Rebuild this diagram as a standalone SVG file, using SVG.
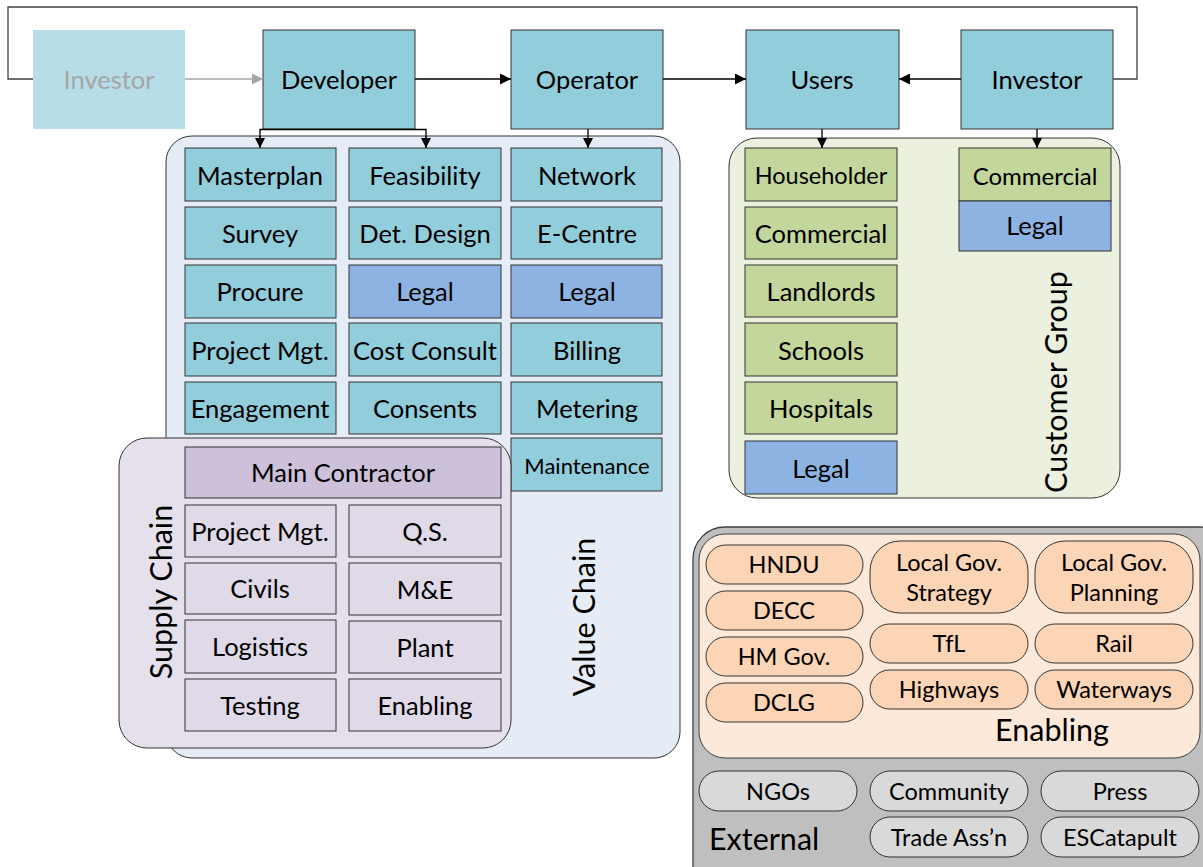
<svg xmlns="http://www.w3.org/2000/svg" width="1203" height="867" viewBox="0 0 1203 867">
<style>
text{font-family:Lato,"Liberation Sans",sans-serif;fill:#000;text-anchor:middle;dominant-baseline:central}
.t{font-size:25.5px}
.s{font-size:25.5px}
.p{font-size:23.5px}
.top{fill:#92cddc;stroke:#333;stroke-width:1}
.vc{fill:#92cddc;stroke:#333;stroke-width:1}
.lg{fill:#8db3e2;stroke:#333;stroke-width:1}
.gr{fill:#c3d69b;stroke:#333;stroke-width:1}
.sc{fill:#dfd9e8;stroke:#333;stroke-width:1}
.en{fill:#fbd5b5;stroke:#333;stroke-width:1}
.ex{fill:#d9d9d9;stroke:#333;stroke-width:1}
.ln{fill:none;stroke:#000;stroke-width:1.3}
.lbl{font-size:30.5px}
</style>
<defs>
<marker id="a" viewBox="0 0 10 10" refX="10" refY="5" markerWidth="10" markerHeight="10" markerUnits="userSpaceOnUse" orient="auto"><path d="M0,0L10,5L0,10z" fill="#000"/></marker>
<marker id="ab" viewBox="0 0 10 10" refX="10" refY="5" markerWidth="13" markerHeight="11" markerUnits="userSpaceOnUse" orient="auto"><path d="M0,0L10,5L0,10z" fill="#000"/></marker>
<marker id="ag" viewBox="0 0 10 10" refX="10" refY="5" markerWidth="13" markerHeight="11" markerUnits="userSpaceOnUse" orient="auto"><path d="M0,0L10,5L0,10z" fill="#a6a6a6"/></marker>
</defs>

<g id="top-nodes">
<g id="investor-left"><rect x="33" y="30" width="152" height="99" fill="#b6dde8"/><text x="109" y="79" class="t" style="fill:#a6a6a6">Investor</text></g>
<g id="developer"><rect x="263" y="30" width="152" height="99" class="top"/><text x="339" y="79" class="t">Developer</text></g>
<g id="operator"><rect x="511" y="30" width="152" height="99" class="top"/><text x="587" y="79" class="t">Operator</text></g>
<g id="users"><rect x="746" y="30" width="153" height="99" class="top"/><text x="822" y="79" class="t">Users</text></g>
<g id="investor-right"><rect x="961" y="30" width="152" height="99" class="top"/><text x="1037" y="79" class="t">Investor</text></g>
</g>

<g id="value-chain">
<rect x="166" y="136" width="514" height="622" rx="26" fill="#e6ecf5" stroke="#333" stroke-width="1"/>
<text x="583" y="617" class="lbl" transform="rotate(-90 583 617)">Value Chain</text>
<g id="masterplan"><rect x="185" y="148" width="151" height="53" class="vc"/><text x="260" y="175" class="s">Masterplan</text></g>
<g id="survey"><rect x="185" y="207" width="151" height="52" class="vc"/><text x="260" y="233" class="s">Survey</text></g>
<g id="procure"><rect x="185" y="265" width="151" height="53" class="vc"/><text x="260" y="291" class="s">Procure</text></g>
<g id="project-mgt"><rect x="185" y="323" width="151" height="53" class="vc"/><text x="260" y="350" class="s">Project Mgt.</text></g>
<g id="engagement"><rect x="185" y="382" width="151" height="52" class="vc"/><text x="260" y="408" class="s">Engagement</text></g>
<g id="feasibility"><rect x="349" y="148" width="152" height="53" class="vc"/><text x="425" y="175" class="s">Feasibility</text></g>
<g id="det-design"><rect x="349" y="207" width="152" height="52" class="vc"/><text x="425" y="233" class="s">Det. Design</text></g>
<g id="legal-vc1"><rect x="349" y="265" width="152" height="53" class="lg"/><text x="425" y="291" class="s">Legal</text></g>
<g id="cost-consult"><rect x="349" y="323" width="152" height="53" class="vc"/><text x="425" y="350" class="s">Cost Consult</text></g>
<g id="consents"><rect x="349" y="382" width="152" height="52" class="vc"/><text x="425" y="408" class="s">Consents</text></g>
<g id="network"><rect x="511" y="148" width="151" height="53" class="vc"/><text x="587" y="175" class="s">Network</text></g>
<g id="e-centre"><rect x="511" y="207" width="151" height="52" class="vc"/><text x="587" y="233" class="s">E-Centre</text></g>
<g id="legal-vc2"><rect x="511" y="265" width="151" height="53" class="lg"/><text x="587" y="291" class="s">Legal</text></g>
<g id="billing"><rect x="511" y="323" width="151" height="53" class="vc"/><text x="587" y="350" class="s">Billing</text></g>
<g id="metering"><rect x="511" y="382" width="151" height="52" class="vc"/><text x="587" y="408" class="s">Metering</text></g>
<g id="maintenance"><rect x="511" y="438" width="151" height="53" class="vc"/><text x="587" y="465" style="font-size:22px">Maintenance</text></g>
</g>

<g id="supply-chain">
<rect x="119" y="438" width="392" height="310" rx="28" fill="#e5e0ec" stroke="#333" stroke-width="1"/>
<text x="160" y="592" class="lbl" transform="rotate(-90 160 592)">Supply Chain</text>
<g id="main-contractor"><rect x="185" y="447" width="316" height="51" fill="#ccc0da" stroke="#333"/><text x="343" y="472" class="s">Main Contractor</text></g>
<g id="sc-project-mgt"><rect x="185" y="505" width="151" height="52" class="sc"/><text x="260" y="531" class="s">Project Mgt.</text></g>
<g id="civils"><rect x="185" y="563" width="151" height="51" class="sc"/><text x="260" y="588" class="s">Civils</text></g>
<g id="logistics"><rect x="185" y="620" width="151" height="53" class="sc"/><text x="260" y="646" class="s">Logistics</text></g>
<g id="testing"><rect x="185" y="679" width="151" height="52" class="sc"/><text x="260" y="705" class="s">Testing</text></g>
<g id="qs"><rect x="349" y="505" width="152" height="52" class="sc"/><text x="425" y="531" class="s">Q.S.</text></g>
<g id="me"><rect x="349" y="563" width="152" height="52" class="sc"/><text x="425" y="589" class="s">M&amp;E</text></g>
<g id="plant"><rect x="349" y="621" width="152" height="52" class="sc"/><text x="425" y="647" class="s">Plant</text></g>
<g id="sc-enabling"><rect x="349" y="679" width="152" height="52" class="sc"/><text x="425" y="705" class="s">Enabling</text></g>
</g>

<g id="customer-group">
<rect x="729" y="138" width="391" height="360" rx="28" fill="#ebf1de" stroke="#333" stroke-width="1"/>
<text x="1055" y="382" class="lbl" transform="rotate(-90 1055 382)">Customer Group</text>
<g id="householder"><rect x="745" y="148" width="152" height="53" class="gr"/><text x="821" y="175" style="font-size:23.5px">Householder</text></g>
<g id="commercial-l"><rect x="745" y="207" width="152" height="52" class="gr"/><text x="821" y="233" class="s">Commercial</text></g>
<g id="landlords"><rect x="745" y="265" width="152" height="52" class="gr"/><text x="821" y="291" class="s">Landlords</text></g>
<g id="schools"><rect x="745" y="323" width="152" height="53" class="gr"/><text x="821" y="350" class="s">Schools</text></g>
<g id="hospitals"><rect x="745" y="382" width="152" height="52" class="gr"/><text x="821" y="408" class="s">Hospitals</text></g>
<g id="legal-cg1"><rect x="745" y="441" width="152" height="53" class="lg"/><text x="821" y="468" class="s">Legal</text></g>
<g id="commercial-r"><rect x="959" y="148" width="152" height="53" class="gr"/><text x="1035" y="175" style="font-size:24px">Commercial</text></g>
<g id="legal-cg2"><rect x="959" y="201" width="152" height="50" class="lg"/><text x="1035" y="225" class="s">Legal</text></g>
</g>

<g id="external">
<rect x="693" y="527" width="540" height="380" rx="32" fill="#bfbfbf" stroke="#404040" stroke-width="1.3"/>
<text x="709" y="838" class="lbl" style="text-anchor:start">External</text>
<g id="ngos"><rect x="699" y="771" width="158" height="40" rx="20" class="ex"/><text x="778" y="791" class="p">NGOs</text></g>
<g id="community"><rect x="870" y="771" width="158" height="40" rx="20" class="ex"/><text x="949" y="791" class="p">Community</text></g>
<g id="press"><rect x="1041" y="771" width="158" height="40" rx="20" class="ex"/><text x="1120" y="791" class="p">Press</text></g>
<g id="trade-assn"><rect x="870" y="817" width="158" height="40" rx="20" class="ex"/><text x="949" y="837" class="p">Trade Ass’n</text></g>
<g id="escatapult"><rect x="1041" y="817" width="158" height="40" rx="20" class="ex"/><text x="1120" y="837" class="p">ESCatapult</text></g>
</g>

<g id="enabling">
<rect x="699" y="534" width="501" height="224" rx="26" fill="#fde9d9" stroke="#404040" stroke-width="1"/>
<text x="1052" y="729" class="lbl">Enabling</text>
<g id="hndu"><rect x="706" y="545" width="157" height="39" rx="19.5" class="en"/><text x="784" y="564" class="p">HNDU</text></g>
<g id="decc"><rect x="706" y="591" width="157" height="39" rx="19.5" class="en"/><text x="784" y="610" class="p">DECC</text></g>
<g id="hm-gov"><rect x="706" y="637" width="157" height="39" rx="19.5" class="en"/><text x="784" y="656" class="p">HM Gov.</text></g>
<g id="dclg"><rect x="706" y="683" width="157" height="39" rx="19.5" class="en"/><text x="784" y="702" class="p">DCLG</text></g>
<g id="lg-strategy"><rect x="870" y="541" width="158" height="72" rx="30" class="en"/><text x="949" y="562" class="p">Local Gov.</text><text x="949" y="592" class="p">Strategy</text></g>
<g id="lg-planning"><rect x="1035" y="541" width="158" height="72" rx="30" class="en"/><text x="1114" y="562" class="p">Local Gov.</text><text x="1114" y="592" class="p">Planning</text></g>
<g id="tfl"><rect x="870" y="624" width="158" height="39" rx="19.5" class="en"/><text x="949" y="643" class="p">TfL</text></g>
<g id="rail"><rect x="1035" y="624" width="158" height="39" rx="19.5" class="en"/><text x="1114" y="643" class="p">Rail</text></g>
<g id="highways"><rect x="870" y="670" width="158" height="39" rx="19.5" class="en"/><text x="949" y="689" class="p">Highways</text></g>
<g id="waterways"><rect x="1035" y="670" width="158" height="39" rx="19.5" class="en"/><text x="1114" y="689" class="p">Waterways</text></g>
</g>

<g id="connectors">
<path d="M1113,79H1137V7H8V79H33" fill="none" stroke="#404040" stroke-width="1.3"/>
<path d="M185,79H263" fill="none" stroke="#a6a6a6" stroke-width="1.3" marker-end="url(#ag)"/>
<path d="M415,79H511" class="ln" marker-end="url(#ab)"/>
<path d="M663,79H746" class="ln" marker-end="url(#ab)"/>
<path d="M961,79H899" class="ln" marker-end="url(#ab)"/>
<path d="M260,138V129.5H426V138" class="ln"/>
<path d="M260,136V148" class="ln" marker-end="url(#a)"/>
<path d="M426,136V148" class="ln" marker-end="url(#a)"/>
<path d="M588,129V148" class="ln" marker-end="url(#a)"/>
<path d="M822,129V148" class="ln" marker-end="url(#a)"/>
<path d="M1037,129V148" class="ln" marker-end="url(#a)"/>
</g>
</svg>
